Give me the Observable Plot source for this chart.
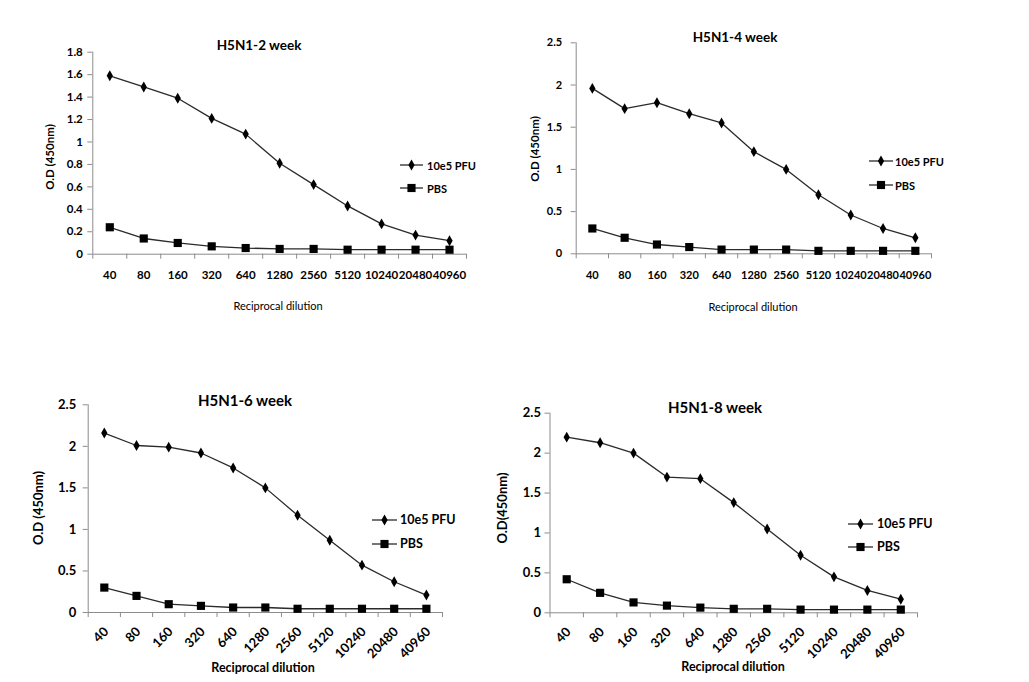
<!DOCTYPE html>
<html><head><meta charset="utf-8">
<script src="https://cdn.jsdelivr.net/npm/d3@7"></script>
<script src="https://cdn.jsdelivr.net/npm/@observablehq/plot@0.6"></script>
<style>
body{margin:0;background:#fff;overflow:hidden}
#page{position:relative;width:1029px;height:682px;background:#fff;font-family:Lato,"DejaVu Sans",sans-serif;color:#000}
.layer{position:absolute;left:0;top:0}
.t{position:absolute;white-space:nowrap;transform:translate(-50%,-50%);line-height:1}
.yl{position:absolute;white-space:nowrap;transform:translate(-50%,-50%) rotate(-90deg);line-height:1;font-weight:bold}
.lg{position:absolute;white-space:nowrap;transform:translateY(-50%);line-height:1}
.ls{position:absolute}
</style></head><body><div id="page"></div>
<script>
// ---- data ----
const dilutions = [40, 80, 160, 320, 640, 1280, 2560, 5120, 10240, 20480, 40960];
const seriesNames = ["10e5 PFU", "PBS"];
const titles = ["H5N1-2 week", "H5N1-4 week", "H5N1-6 week", "H5N1-8 week"];
const xTitle = "Reciprocal dilution";
const yTitles = ["O.D (450nm)", "O.D (450nm)", "O.D (450nm)", "O.D(450nm)"];
const yTicksA = [0, 0.2, 0.4, 0.6, 0.8, 1, 1.2, 1.4, 1.6, 1.8];
const yTicksB = [0, 0.5, 1, 1.5, 2, 2.5];

const pfu2 = [1.59, 1.49, 1.39, 1.21, 1.07, 0.81, 0.62, 0.43, 0.27, 0.17, 0.12];
const pbs2 = [0.24, 0.14, 0.10, 0.07, 0.055, 0.047, 0.047, 0.04, 0.04, 0.04, 0.04];
const pfu4 = [1.96, 1.72, 1.79, 1.66, 1.55, 1.21, 1.00, 0.70, 0.46, 0.30, 0.19];
const pbs4 = [0.30, 0.19, 0.11, 0.08, 0.05, 0.05, 0.05, 0.035, 0.035, 0.035, 0.035];
const pfu6 = [2.16, 2.01, 1.99, 1.92, 1.74, 1.50, 1.17, 0.87, 0.57, 0.37, 0.21];
const pbs6 = [0.30, 0.20, 0.10, 0.08, 0.06, 0.06, 0.045, 0.045, 0.045, 0.045, 0.045];
const pfu8 = [2.20, 2.13, 2.00, 1.70, 1.68, 1.38, 1.05, 0.72, 0.45, 0.28, 0.17];
const pbs8 = [0.42, 0.25, 0.13, 0.09, 0.065, 0.05, 0.05, 0.04, 0.04, 0.04, 0.04];

// ---- layout ----
const W = 1029, H = 682;
const panels = [
  {title: titles[0], yTitle: yTitles[0], pfu: pfu2, pbs: pbs2, yTicks: yTicksA,
   L: 92.3, R: 466, T: 51.7, B: 253.7, rotate: 0, tickPad: 17, tickDx: 0, yPad: 5,
   tickFont: 11.5, titleFont: 13.5, axisFont: 11, axisBold: false, legFont: 11,
   titleXY: [259, 46], xTitleXY: [278, 305], yTitleXY: [50, 157],
   leg: {x1: 400, x2: 423, tx: 427, y: [165, 188]}},
  {title: titles[1], yTitle: yTitles[1], pfu: pfu4, pbs: pbs4, yTicks: yTicksB,
   L: 575.7, R: 931, T: 42.3, B: 253.3, rotate: 0, tickPad: 17, tickDx: 0, yPad: 9,
   tickFont: 11, titleFont: 13.5, axisFont: 11, axisBold: false, legFont: 11,
   titleXY: [735, 38], xTitleXY: [753, 306], yTitleXY: [535, 149],
   leg: {x1: 869, x2: 893, tx: 895, y: [161, 185]}},
  {title: titles[2], yTitle: yTitles[2], pfu: pfu6, pbs: pbs6, yTicks: yTicksB,
   L: 87.7, R: 442, T: 404.3, B: 612, rotate: -45, tickPad: 17, tickDx: 2, yPad: 7,
   tickFont: 13, titleFont: 15, axisFont: 12.5, axisBold: true, legFont: 12.5,
   titleXY: [245, 400], xTitleXY: [263, 668], yTitleXY: [38, 508],
   leg: {x1: 372, x2: 397, tx: 400, y: [520, 544]}},
  {title: titles[3], yTitle: yTitles[3], pfu: pfu8, pbs: pbs8, yTicks: yTicksB,
   L: 549.5, R: 917, T: 412.7, B: 612.3, rotate: -45, tickPad: 17, tickDx: 2, yPad: 4,
   tickFont: 13, titleFont: 15, axisFont: 12.5, axisBold: true, legFont: 12.5,
   titleXY: [715, 407], xTitleXY: [733, 667], yTitleXY: [502, 508],
   leg: {x1: 848, x2: 873, tx: 877, y: [524, 547]}}
];

const page = document.getElementById("page");
const LINE = "#2a2a2a", AXIS = "#8c8c8c";
const diamondR = 3.3, squareR = 4.6;

function addText(cls, txt, x, y, css) {
  const d = document.createElement("div");
  d.className = cls; d.textContent = txt;
  d.style.left = x + "px"; d.style.top = y + "px";
  Object.assign(d.style, css || {});
  page.appendChild(d);
}

function legendSymbol(x1, x2, y, symbol, r) {
  const w = x2 - x1 + 12, h = 16;
  const svg = d3.create("svg").attr("class", "ls").attr("width", w).attr("height", h)
    .style("left", (x1 - 6) + "px").style("top", (y - h / 2) + "px");
  svg.append("line").attr("x1", 6).attr("x2", w - 6).attr("y1", h / 2).attr("y2", h / 2)
    .attr("stroke", LINE).attr("stroke-width", 1.3);
  svg.append("path").attr("transform", `translate(${w / 2},${h / 2})`)
    .attr("d", d3.symbol(symbol, Math.PI * r * r)()).attr("fill", "#000");
  page.appendChild(svg.node());
}

panels.forEach(p => {
  const n = dilutions.length;
  const rows = s => dilutions.map((d, i) => ({i, v: s === 0 ? p.pfu[i] : p.pbs[i], series: seriesNames[s]}));
  const pfuRows = rows(0), pbsRows = rows(1);
  const boundaries = d3.range(n + 1).map(k => k - 0.5);
  const yMax = p.yTicks[p.yTicks.length - 1];
  const chart = Plot.plot({
    width: W, height: H,
    marginLeft: p.L, marginRight: W - p.R, marginTop: p.T, marginBottom: H - p.B,
    x: {type: "linear", domain: [-0.5, n - 0.5]},
    y: {domain: [0, yMax]},
    style: {background: "transparent", overflow: "visible", fontFamily: "Lato, sans-serif",
            fontSize: p.tickFont + "px", fontWeight: "bold", color: "#000"},
    marks: [
      Plot.ruleY([0], {stroke: AXIS}),
      Plot.ruleX([-0.5], {stroke: AXIS}),
      Plot.axisY({ticks: p.yTicks, tickFormat: d => String(+d.toFixed(2)), tickSize: 5, tickPadding: p.yPad, stroke: AXIS, label: null}),
      Plot.axisX({ticks: boundaries, tickFormat: () => "", tickSize: 5, tickPadding: 0, stroke: AXIS, label: null}),
      Plot.axisX({ticks: d3.range(n), tickFormat: i => String(dilutions[i]), tickSize: 0, tickPadding: p.tickPad, tickRotate: p.rotate, dx: p.tickDx, label: null}),
      Plot.line(pfuRows, {x: "i", y: "v", stroke: LINE, strokeWidth: 1.3}),
      Plot.line(pbsRows, {x: "i", y: "v", stroke: LINE, strokeWidth: 1.3}),
      Plot.dot(pfuRows, {x: "i", y: "v", symbol: "diamond", r: diamondR, fill: "#000", stroke: "none"}),
      Plot.dot(pbsRows, {x: "i", y: "v", symbol: "square", r: squareR, fill: "#000", stroke: "none"})
    ]
  });
  chart.classList.add("layer");
  page.appendChild(chart);

  addText("t", p.title, p.titleXY[0], p.titleXY[1], {fontSize: p.titleFont + "px", fontWeight: "bold"});
  addText("t", xTitle, p.xTitleXY[0], p.xTitleXY[1], {fontSize: p.axisFont + "px", fontWeight: p.axisBold ? "bold" : "normal"});
  addText("yl", p.yTitle, p.yTitleXY[0], p.yTitleXY[1], {fontSize: (p.axisFont + 0.5) + "px"});
  legendSymbol(p.leg.x1, p.leg.x2, p.leg.y[0], d3.symbolDiamond, diamondR);
  legendSymbol(p.leg.x1, p.leg.x2, p.leg.y[1], d3.symbolSquare, squareR);
  addText("lg", seriesNames[0], p.leg.tx, p.leg.y[0], {fontSize: p.legFont + "px", fontWeight: "bold"});
  addText("lg", seriesNames[1], p.leg.tx, p.leg.y[1], {fontSize: p.legFont + "px", fontWeight: "bold"});
});
</script></body></html>
